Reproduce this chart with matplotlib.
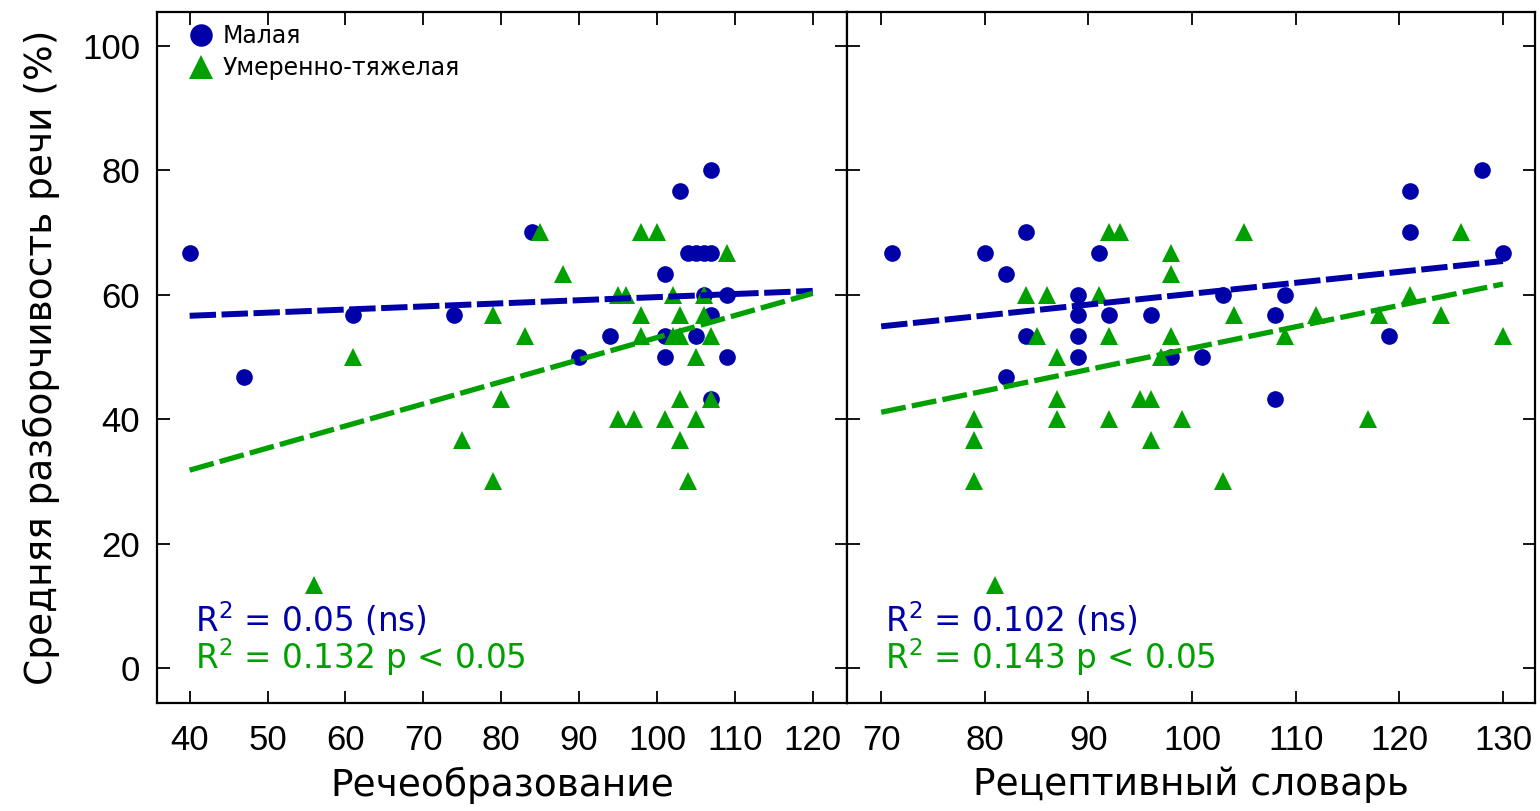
import matplotlib
matplotlib.use("Agg")
import matplotlib.pyplot as plt

# Малая (blue circles) and Умеренно-тяжелая (green triangles)
# left panel: Речеобразование
mal_x1 = [40, 47, 61, 74, 84, 90, 94, 101, 101, 101, 103, 104, 105, 106, 107,
          107, 106, 109, 107, 105, 109, 107]
mal_y1 = [66.7, 46.7, 56.7, 56.7, 70, 50, 53.3, 63.3, 53.3, 50, 76.7, 66.7, 66.7,
          66.7, 66.7, 80, 60, 60, 56.7, 53.3, 50, 43.3]
um_x1 = [85, 98, 100, 109, 88, 95, 96, 102, 106, 79, 98, 103, 106, 83, 98, 102,
         103, 107, 61, 105, 80, 103, 107, 95, 97, 101, 105, 75, 103, 79, 104, 56]
um_y1 = [70, 70, 70, 66.7, 63.3, 60, 60, 60, 60, 56.7, 56.7, 56.7, 56.7, 53.3,
         53.3, 53.3, 53.3, 53.3, 50, 50, 43.3, 43.3, 43.3, 40, 40, 40, 40, 36.7,
         36.7, 30, 30, 13.3]

# right panel: Рецептивный словарь
mal_x2 = [71, 80, 91, 130, 84, 121, 82, 89, 103, 109, 89, 92, 96, 108, 84, 89,
          119, 89, 98, 101, 82, 108, 121, 128]
mal_y2 = [66.7, 66.7, 66.7, 66.7, 70, 70, 63.3, 60, 60, 60, 56.7, 56.7, 56.7,
          56.7, 53.3, 53.3, 53.3, 50, 50, 50, 46.7, 43.3, 76.7, 80]
um_x2 = [92, 93, 105, 126, 98, 98, 84, 86, 91, 121, 104, 112, 118, 124, 85, 92,
         98, 109, 130, 87, 97, 87, 95, 96, 79, 87, 92, 99, 117, 79, 96, 79, 103, 81]
um_y2 = [70, 70, 70, 70, 66.7, 63.3, 60, 60, 60, 60, 56.7, 56.7, 56.7, 56.7,
         53.3, 53.3, 53.3, 53.3, 53.3, 50, 50, 43.3, 43.3, 43.3, 40, 40, 40, 40,
         40, 36.7, 36.7, 30, 30, 13.3]

# regression lines (end values)
fit_x1 = [40, 120]
mal_fit1 = [56.6, 60.6]
um_fit1 = [31.8, 60.2]
fit_x2 = [70, 130]
mal_fit2 = [54.9, 65.4]
um_fit2 = [41.1, 61.7]

r2_text1 = ["R$^2$ = 0.05 (ns)", "R$^2$ = 0.132 p < 0.05"]
r2_text2 = ["R$^2$ = 0.102 (ns)", "R$^2$ = 0.143 p < 0.05"]

xticks1 = [40, 50, 60, 70, 80, 90, 100, 110, 120]
xticks2 = [70, 80, 90, 100, 110, 120, 130]
yticks = [0, 20, 40, 60, 80, 100]

BLUE = "#0000a8"
GREEN = "#00a000"

plt.rcParams["font.family"] = ["DejaVu Sans"]
plt.rcParams["lines.scale_dashes"] = False

fig = plt.figure(figsize=(15.4, 8.11), dpi=100)
ax1 = fig.add_axes([0.1019, 0.1332, 0.55 - 0.1019, 0.8520])
ax2 = fig.add_axes([0.55, 0.1332, 0.9968 - 0.55, 0.8520])

panels = [
    (ax1, mal_x1, mal_y1, um_x1, um_y1, fit_x1, mal_fit1, um_fit1, r2_text1,
     xticks1, (35.8, 124.4), "Речеобразование"),
    (ax2, mal_x2, mal_y2, um_x2, um_y2, fit_x2, mal_fit2, um_fit2, r2_text2,
     xticks2, (66.7, 133.1), "Рецептивный словарь"),
]

for ax, mx, my, ux, uy, fx, mf, uf, r2, xt, xl, xlab in panels:
    ax.plot(mx, my, "o", color=BLUE, ms=12, mew=0, label="Малая")
    ax.plot(ux, uy, "^", color=GREEN, ms=13, mew=0, label="Умеренно-тяжелая")
    ax.plot(fx, mf, color=BLUE, lw=4.3, dashes=(19, 4))
    ax.plot(fx, uf, color=GREEN, lw=3.8, dashes=(18, 4.5))

    ax.text(0.055, 0.12, r2[0], transform=ax.transAxes, color=BLUE,
            fontsize=23.5, va="center")
    ax.text(0.055, 0.067, r2[1], transform=ax.transAxes, color=GREEN,
            fontsize=23.5, va="center")

    ax.set_xlim(*xl)
    ax.set_ylim(-5.6, 105.4)
    ax.set_xticks(xt)
    ax.set_yticks(yticks)
    ax.tick_params(direction="in", length=9, width=1.3, top=True, right=True,
                   labelsize=25, pad=12)
    ax.tick_params(axis="x", pad=15)
    for lab in ax.get_xticklabels() + ax.get_yticklabels():
        lab.set_family(["Liberation Sans", "DejaVu Sans"])
    for sp in ax.spines.values():
        sp.set_linewidth(1.6)
    ax.set_xlabel(xlab, fontsize=27, labelpad=7)

ax2.tick_params(labelleft=False)
ax1.set_ylabel("Средняя разборчивость речи (%)", fontsize=27, labelpad=16)

ax1.legend(loc="upper left", bbox_to_anchor=(0.03, 1.0), frameon=False,
           fontsize=17, markerscale=1.35, handlelength=1.0, handletextpad=0.4,
           labelspacing=0.35, borderaxespad=0.2, borderpad=0.3)

fig.savefig("out.png", dpi=100)
